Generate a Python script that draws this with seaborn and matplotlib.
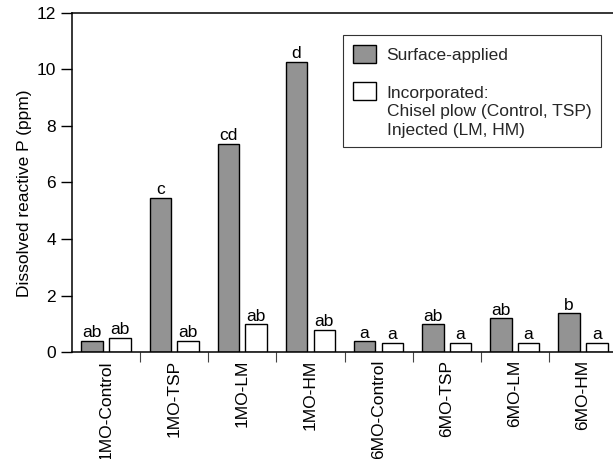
import matplotlib
matplotlib.use("Agg")
import matplotlib.pyplot as plt
import matplotlib.patches as mpatches
from matplotlib.legend_handler import HandlerPatch
from matplotlib.ticker import FixedLocator
import pandas as pd
import seaborn as sns

# Treatments (sampling time - fertilizer source)
treatments = ["1MO-Control", "1MO-TSP", "1MO-LM", "1MO-HM",
              "6MO-Control", "6MO-TSP", "6MO-LM", "6MO-HM"]
# Dissolved reactive P (ppm) for each placement method
surface_applied = [0.40, 5.45, 7.38, 10.28, 0.38, 0.98, 1.19, 1.37]
incorporated = [0.49, 0.40, 0.98, 0.78, 0.33, 0.33, 0.33, 0.33]
# Mean separation letters
surface_letters = ["ab", "c", "cd", "d", "a", "ab", "ab", "b"]
incorporated_letters = ["ab", "ab", "ab", "ab", "a", "a", "a", "a"]
y_ticks = [0, 2, 4, 6, 8, 10, 12]

methods = ["Surface-applied", "Incorporated"]
legend_labels = ["Surface-applied",
                 "Incorporated:\nChisel plow (Control, TSP)\nInjected (LM, HM)"]

df = pd.DataFrame({
    "Treatment": treatments * 2,
    "Method": [methods[0]] * len(treatments) + [methods[1]] * len(treatments),
    "DRP": surface_applied + incorporated,
})

sns.set_theme(style="ticks")
plt.rcParams["font.family"] = ["Liberation Sans", "DejaVu Sans"]
FS = 12.5

fig = plt.figure(figsize=(6.13, 4.59), dpi=100)
ax = fig.add_axes([72.3 / 613, 107 / 459, 544.4 / 613, 339 / 459])

gray = "#939393"
palette = {methods[0]: gray, methods[1]: "white"}
sns.barplot(data=df, x="Treatment", y="DRP", hue="Method", order=treatments,
            hue_order=methods, palette=palette, width=0.82, gap=0.22,
            edgecolor="black", linewidth=1.0, saturation=1, legend=False,
            errorbar=None, ax=ax)

for container, letters in zip(ax.containers, [surface_letters, incorporated_letters]):
    ax.bar_label(container, labels=letters, padding=0.5, fontsize=FS, color="black")

ax.set_xlim(-0.5, len(treatments) - 0.5)
ax.set_ylim(0, 12)
ax.set_yticks(y_ticks)
ax.set_xlabel("")
ax.set_ylabel("Dissolved reactive P (ppm)", fontsize=FS, color="black")
ax.yaxis.set_label_coords(-0.0735, 0.469)

ax.tick_params(axis="y", direction="out", length=7.7, width=1.0, pad=4,
               labelsize=FS, colors="black")
ax.tick_params(axis="x", which="major", length=0, pad=5.8, labelsize=FS,
               labelcolor="black")
ax.xaxis.set_minor_locator(FixedLocator([i + 0.5 for i in range(len(treatments))]))
ax.tick_params(axis="x", which="minor", direction="out", length=7.4, width=0.8,
               color="#444444")
for lbl in ax.get_xticklabels():
    lbl.set_rotation(90)
    lbl.set_ha("center")
    lbl.set_va("top")

for side in ["left", "bottom", "top"]:
    ax.spines[side].set_visible(True)
    ax.spines[side].set_color("black")
    ax.spines[side].set_linewidth(1.1)
ax.spines["right"].set_visible(False)


def raised_box(legend, orig_handle, xdescent, ydescent, width, height, fontsize):
    # Multi-line entries: align the swatch with the first text line
    return mpatches.Rectangle((-xdescent, -ydescent + 1.2 * fontsize), width, height)


h_surface = mpatches.Patch(facecolor=gray, edgecolor="black", linewidth=1.0)
h_incorp = mpatches.Patch(facecolor="white", edgecolor="black", linewidth=1.0)
leg = ax.legend(handles=[h_surface, h_incorp], labels=legend_labels,
                loc="upper right", bbox_to_anchor=(0.9706, 0.935),
                borderaxespad=0, fontsize=FS, frameon=True, fancybox=False,
                edgecolor="#333333", framealpha=1, handlelength=1.32,
                handleheight=1.26, handletextpad=0.63, borderpad=0.55,
                labelspacing=1.3,
                handler_map={h_incorp: HandlerPatch(patch_func=raised_box)})
leg.get_frame().set_linewidth(0.8)
for t in leg.get_texts():
    t.set_linespacing(1.3)

fig.savefig("out.png", dpi=100)
